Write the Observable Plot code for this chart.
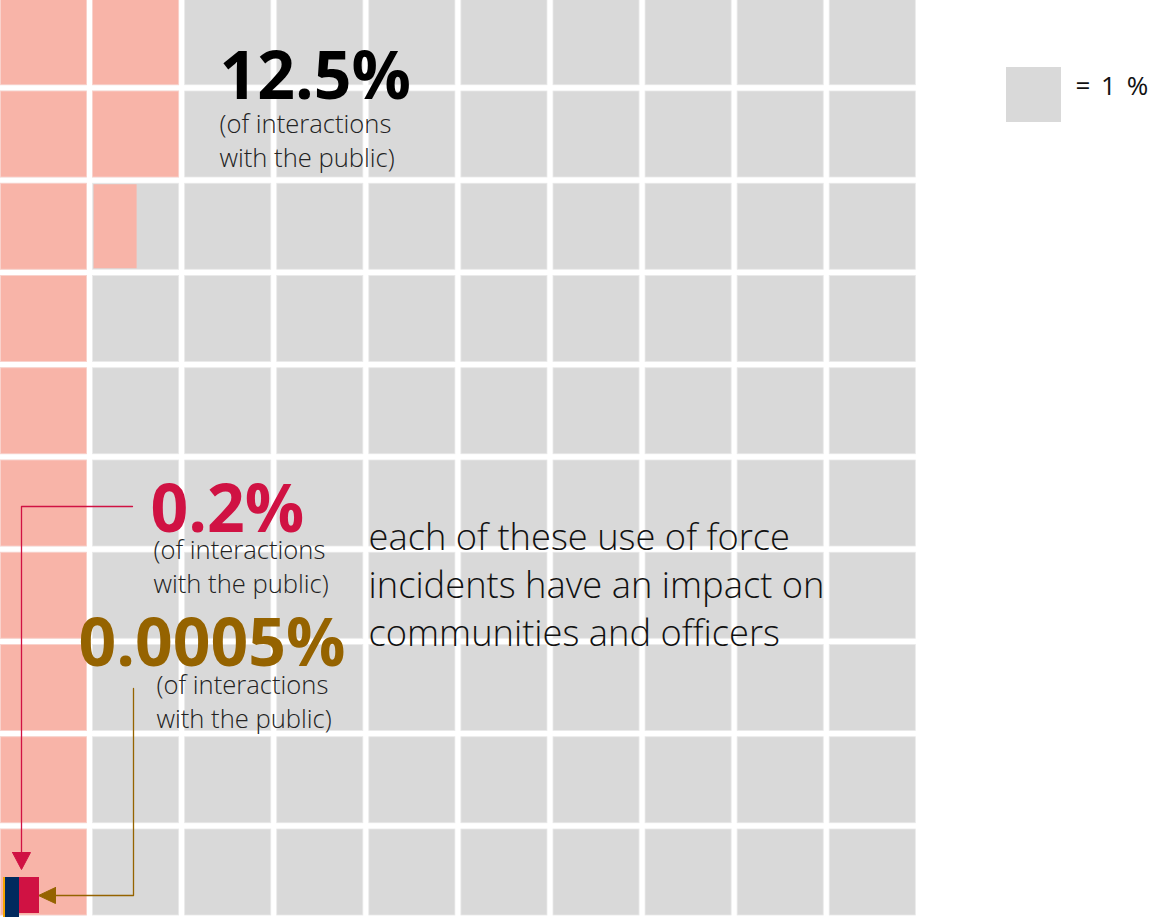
<!DOCTYPE html>
<html>
<head>
<meta charset="utf-8">
<script src="https://cdn.jsdelivr.net/npm/d3@7"></script>
<script src="https://cdn.jsdelivr.net/npm/@observablehq/plot@0.6"></script>
<style>
  html, body { margin: 0; padding: 0; background: #fff; }
  #chart { position: relative; width: 1153px; height: 917px; }
  .legend-label text { word-spacing: 4px; }
</style>
</head>
<body>
<div id="chart"></div>
<script>
// ---- data ----
const gridColumns = 10;
const gridRows = 10;
const unitValue = 1;                 // each square = 1 %
const mainShare = 12.5;              // % of interactions (pink waffle)
const labels = ["12.5%", "0.2%", "0.0005%"];
const labelColors = ["#000000", "#D01243", "#956300"];
const subLabel = "(of interactions\nwith the public)";
const message = "each of these use of force\nincidents have an impact on\ncommunities and officers";
const legendText = "= 1 %";

// ---- styles ----
const GRAY = "#D9D9D9", PINK = "#F8B4A8", NAVY = "#012A5E", ORANGE = "#F5A500";

// pixel helpers for annotation placement (grid units: 1 cell pitch)
const X0 = 0.5, PX = 92.08, Y0 = -1.25, PY = 92.25;
const ux = p => (p - X0) / PX;
const uy = p => (p - Y0) / PY;

// waffle cells (column-major fill from top-left)
const cells = [];
for (let c = 0; c < gridColumns; c++) {
  for (let r = 0; r < gridRows; r++) {
    const idx = c * gridRows + r;
    const frac = Math.max(0, Math.min(1, (mainShare - idx * unitValue) / unitValue));
    cells.push({col: c, row: r, frac});
  }
}
const full = cells.filter(d => d.frac >= 1);
const partial = cells.filter(d => d.frac > 0 && d.frac < 1);
const cellW = 1 - 6 / PX;

// annotation geometry (pixels -> grid units)
const bigLabels = [
  {text: labels[0], x: ux(219), y: uy(98), color: labelColors[0]},
  {text: labels[1], x: ux(150), y: uy(531), color: labelColors[1]},
  {text: labels[2], x: ux(78), y: uy(665), color: labelColors[2]}
];
const subLabels = [
  {x: ux(219), y: uy(166)},
  {x: ux(153), y: uy(592)},
  {x: ux(156), y: uy(727)}
];
const redPath = [[132, 506], [21, 506], [21, 856]].map(([a, b]) => ({x: ux(a), y: uy(b)}));
const redHead = [[12, 852], [30, 852], [21, 869], [12, 852]].map(([a, b]) => ({x: ux(a), y: uy(b)}));
const brownPath = [[133, 688], [133, 895], [52, 895]].map(([a, b]) => ({x: ux(a), y: uy(b)}));
const brownHead = [[55, 887], [55, 903], [38, 895], [55, 887]].map(([a, b]) => ({x: ux(a), y: uy(b)}));
const smallBars = [
  {x1: ux(19), x2: ux(39), y1: uy(877), y2: uy(913), fill: labelColors[1]},
  {x1: ux(4.5), x2: ux(19), y1: uy(877), y2: uy(918), fill: NAVY},
  {x1: ux(3), x2: ux(5), y1: uy(877), y2: uy(918), fill: ORANGE}
];
const legendBox = [{x1: ux(1006), x2: ux(1061), y1: uy(67), y2: uy(122)}];

const chart = Plot.plot({
  width: 1153,
  height: 917,
  margin: 0,
  x: {domain: [0, 10], range: [X0, X0 + 10 * PX], axis: null},
  y: {domain: [0, 10], range: [Y0, Y0 + 10 * PY], axis: null},
  style: {fontFamily: "'Open Sans', sans-serif", background: "#fff"},
  marks: [
    Plot.rect(cells, {x1: "col", x2: d => d.col + 1, y1: "row", y2: d => d.row + 1,
      insetRight: 6, insetBottom: 6.25, fill: GRAY, stroke: "#e9e9e9", strokeWidth: 0.8}),
    Plot.rect(full, {x1: "col", x2: d => d.col + 1, y1: "row", y2: d => d.row + 1,
      insetRight: 6, insetBottom: 6.25, fill: PINK, stroke: "#fbd3cc", strokeWidth: 0.8}),
    Plot.rect(partial, {x1: d => d.col + 1 / PX, x2: d => d.col + 1 / PX + d.frac * cellW, y1: "row", y2: d => d.row + 1,
      insetTop: 1, insetBottom: 7.25, fill: PINK}),
    Plot.rect(legendBox, {x1: "x1", x2: "x2", y1: "y1", y2: "y2", fill: GRAY}),
    Plot.text([legendText], {x: ux(1075), y: uy(86), text: d => d, textAnchor: "start", lineAnchor: "middle",
      fontSize: 26, fill: "#111", fontFamily: "'Open Sans', sans-serif", className: "legend-label"}),
    Plot.text(bigLabels, {x: "x", y: "y", text: "text", fill: "color", textAnchor: "start", lineAnchor: "bottom",
      fontSize: 66, fontWeight: 700, fontFamily: "'Open Sans', sans-serif"}),
    Plot.text(subLabels, {x: "x", y: "y", text: () => subLabel, textAnchor: "start", lineAnchor: "bottom",
      fontSize: 25.6, lineHeight: 1.3, fontWeight: 300, fill: "#222", fontFamily: "'Open Sans', sans-serif"}),
    Plot.text([message], {x: ux(368), y: uy(645), text: d => d, textAnchor: "start", lineAnchor: "bottom",
      fontSize: 36.3, lineHeight: 1.31, fontWeight: 300, fill: "#111", fontFamily: "'Open Sans', sans-serif"}),
    Plot.line(redPath, {x: "x", y: "y", stroke: labelColors[1], strokeWidth: 1.3}),
    Plot.line(redHead, {x: "x", y: "y", stroke: labelColors[1], fill: labelColors[1], strokeWidth: 1}),
    Plot.line(brownPath, {x: "x", y: "y", stroke: labelColors[2], strokeWidth: 1.3}),
    Plot.line(brownHead, {x: "x", y: "y", stroke: labelColors[2], fill: labelColors[2], strokeWidth: 1}),
    Plot.rect(smallBars, {x1: "x1", x2: "x2", y1: "y1", y2: "y2", fill: "fill"})
  ]
});
document.getElementById("chart").appendChild(chart);
</script>
</body>
</html>
